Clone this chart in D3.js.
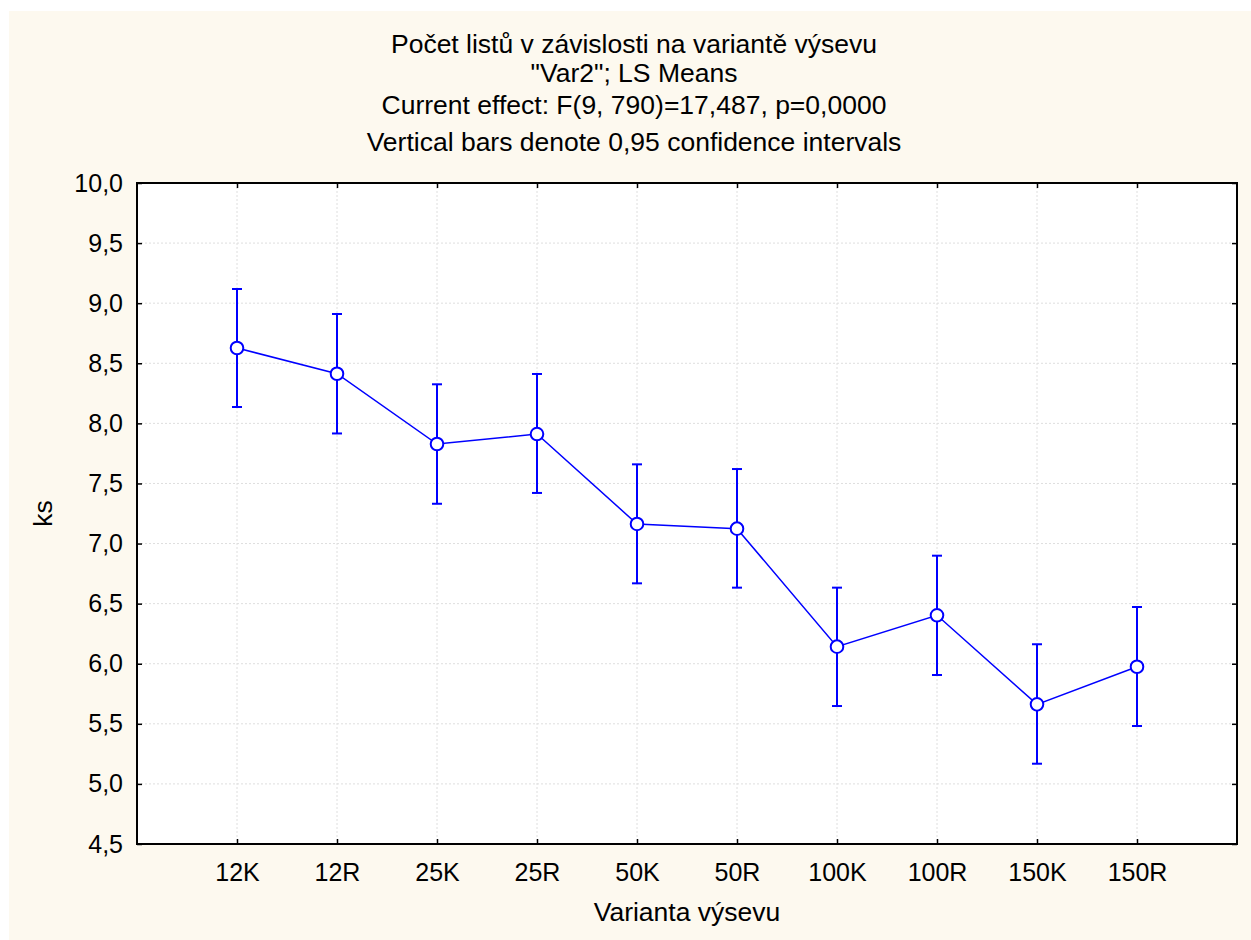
<!DOCTYPE html>
<html>
<head>
<meta charset="utf-8">
<script src="https://cdn.jsdelivr.net/npm/d3@7"></script>
<style>
  body { margin: 0; background: #fff; }
  text { font-family: "Liberation Sans", Arial, sans-serif; fill: #000; }
</style>
</head>
<body>
<div id="chart"></div>
<script>
const titleLines = [
  'Počet listů v závislosti na variantě výsevu',
  '"Var2"; LS Means',
  'Current effect: F(9, 790)=17,487, p=0,0000',
  'Vertical bars denote 0,95 confidence intervals'
];
const categories = ['12K', '12R', '25K', '25R', '50K', '50R', '100K', '100R', '150K', '150R'];
const means = [8.627, 8.413, 7.828, 7.911, 7.163, 7.124, 6.142, 6.403, 5.662, 5.975];
const upper = [9.118, 8.910, 8.325, 8.411, 7.659, 7.620, 6.633, 6.899, 6.162, 6.472];
const lower = [8.136, 7.916, 7.331, 7.421, 6.669, 6.633, 5.648, 5.906, 5.168, 5.482];
const yTicks = [4.5, 5.0, 5.5, 6.0, 6.5, 7.0, 7.5, 8.0, 8.5, 9.0, 9.5, 10.0];

const W = 1251, H = 940;
const margin = {left: 137, top: 183, right: 14, bottom: 96};
const blue = '#0000ff';

const fmt = d3.formatLocale({decimal: ',', thousands: ' ', grouping: [3], currency: ['', '']}).format('.1f');

const svg = d3.select('#chart').append('svg')
  .attr('width', W)
  .attr('height', H);

svg.append('rect')
  .attr('x', 9).attr('y', 11)
  .attr('width', W - 9).attr('height', H - 11)
  .attr('fill', '#fdf9ef');

const x = d3.scalePoint()
  .domain(categories)
  .range([margin.left, W - margin.right])
  .padding(1);

const y = d3.scaleLinear()
  .domain([4.5, 10])
  .range([H - margin.bottom, margin.top]);

const x0 = margin.left, x1 = W - margin.right;
const y0 = H - margin.bottom, y1 = margin.top;

svg.append('rect')
  .attr('x', x0).attr('y', y1)
  .attr('width', x1 - x0).attr('height', y0 - y1)
  .attr('fill', '#fff');

// grid
const grid = svg.append('g')
  .attr('stroke', '#dedede')
  .attr('stroke-width', 1)
  .attr('stroke-dasharray', '2,2');

grid.selectAll('line.h')
  .data(yTicks.slice(1, -1))
  .join('line')
  .attr('x1', x0).attr('x2', x1)
  .attr('y1', d => y(d)).attr('y2', d => y(d));

grid.selectAll('line.v')
  .data(categories)
  .join('line')
  .attr('x1', d => x(d)).attr('x2', d => x(d))
  .attr('y1', y1).attr('y2', y0);

// axes with inward ticks
const axisLeft = svg.append('g')
  .attr('transform', `translate(${x0},0)`)
  .call(d3.axisLeft(y).tickValues(yTicks).tickFormat(fmt).tickSize(-5).tickPadding(14));

const axisRight = svg.append('g')
  .attr('transform', `translate(${x1},0)`)
  .call(d3.axisRight(y).tickValues(yTicks).tickFormat('').tickSize(-5));

const axisBottom = svg.append('g')
  .attr('transform', `translate(0,${y0})`)
  .call(d3.axisBottom(x).tickSize(-5).tickPadding(19));

const axisTop = svg.append('g')
  .attr('transform', `translate(0,${y1})`)
  .call(d3.axisTop(x).tickFormat('').tickSize(-5));

[axisLeft, axisRight, axisBottom, axisTop].forEach(a => {
  a.select('.domain').remove();
  a.selectAll('line').attr('stroke', '#000').attr('stroke-width', 1.5);
  a.selectAll('text')
    .attr('font-size', 25)
    .attr('font-family', '"Liberation Sans", Arial, sans-serif')
    .attr('fill', '#000');
});

svg.append('rect')
  .attr('x', x0).attr('y', y1)
  .attr('width', x1 - x0).attr('height', y0 - y1)
  .attr('fill', 'none')
  .attr('stroke', '#000')
  .attr('stroke-width', 2);

// error bars
const bars = svg.append('g')
  .attr('stroke', blue)
  .attr('stroke-width', 2)
  .selectAll('g')
  .data(categories)
  .join('g');

bars.append('line')
  .attr('x1', d => x(d)).attr('x2', d => x(d))
  .attr('y1', (d, i) => y(upper[i])).attr('y2', (d, i) => y(lower[i]));
bars.append('line')
  .attr('x1', d => x(d) - 5).attr('x2', d => x(d) + 5)
  .attr('y1', (d, i) => y(upper[i])).attr('y2', (d, i) => y(upper[i]));
bars.append('line')
  .attr('x1', d => x(d) - 5).attr('x2', d => x(d) + 5)
  .attr('y1', (d, i) => y(lower[i])).attr('y2', (d, i) => y(lower[i]));

// mean line
const line = d3.line()
  .x((d, i) => x(categories[i]))
  .y(d => y(d));

svg.append('path')
  .datum(means)
  .attr('d', line)
  .attr('fill', 'none')
  .attr('stroke', blue)
  .attr('stroke-width', 1.5);

svg.append('g')
  .selectAll('circle')
  .data(means)
  .join('circle')
  .attr('cx', (d, i) => x(categories[i]))
  .attr('cy', d => y(d))
  .attr('r', 6.3)
  .attr('fill', '#fff')
  .attr('stroke', blue)
  .attr('stroke-width', 2);

// titles, centred on the whole picture
const titleY = [53, 82, 114, 151];
svg.append('g')
  .selectAll('text')
  .data(titleLines)
  .join('text')
  .attr('x', 634)
  .attr('y', (d, i) => titleY[i])
  .attr('text-anchor', 'middle')
  .attr('font-size', 26.5)
  .text(d => d);

svg.append('text')
  .attr('x', (x0 + x1) / 2)
  .attr('y', 921)
  .attr('text-anchor', 'middle')
  .attr('font-size', 26.5)
  .text('Varianta výsevu');

svg.append('text')
  .attr('transform', `translate(52,${(y0 + y1) / 2}) rotate(-90)`)
  .attr('text-anchor', 'middle')
  .attr('font-size', 26.5)
  .text('ks');
</script>
</body>
</html>
